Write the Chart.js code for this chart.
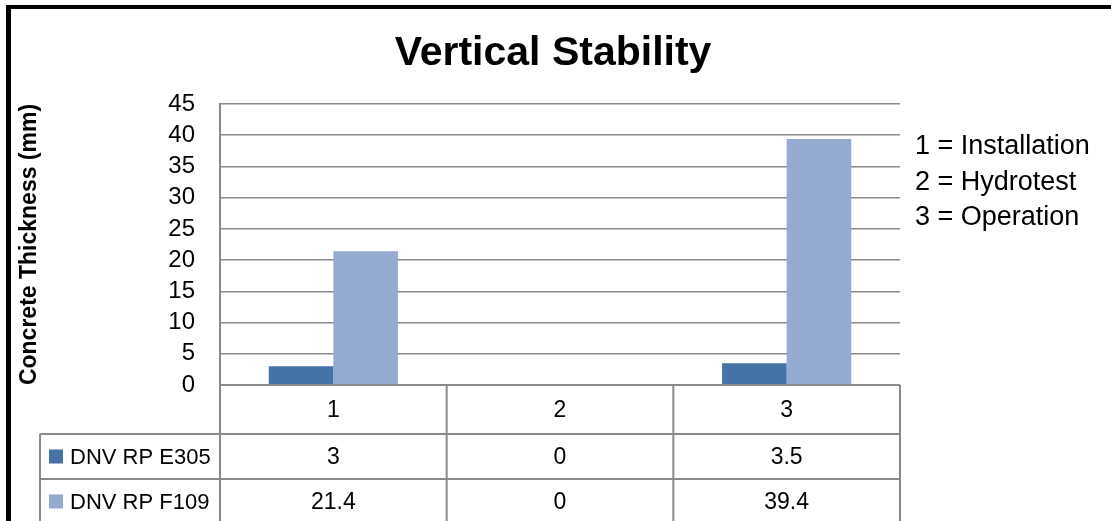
<!DOCTYPE html>
<html>
<head>
<meta charset="utf-8">
<title>Vertical Stability</title>
<script src="https://cdn.jsdelivr.net/npm/chart.js@4/dist/chart.umd.min.js"></script>
<style>
  html, body { margin: 0; padding: 0; background: #fff; }
  #wrap { width: 1111px; height: 521px; position: relative; overflow: hidden; }
  canvas { display: block; }
</style>
</head>
<body>
<div id="wrap"><canvas id="chart" width="1111" height="521"></canvas></div>
<script>
// Load cases on the category axis
const categories = ['1', '2', '3'];
const caseNames = ['1 = Installation', '2 = Hydrotest', '3 = Operation'];

// Required concrete thickness (mm) per design code
const seriesNames = ['DNV RP E305', 'DNV RP F109'];
const e305Values = [3, 0, 3.5];
const f109Values = [21.4, 0, 39.4];

// Value axis
const yMin = 0;
const yMax = 45;
const yStep = 5;

const titleText = 'Vertical Stability';
const yTitleText = 'Concrete Thickness (mm)';

const FONT = '"Liberation Sans", Arial, sans-serif';
const colors = ['#4572A7', '#95AAD1'];
const lineGrey = '#8a8a8a';

// Draws the frame, title, case key and the data table under the axis
const decorations = {
  id: 'decorations',
  afterDraw(chart) {
    const ctx = chart.ctx;
    const area = chart.chartArea;
    const xs = chart.scales.x;
    ctx.save();

    // outer frame (left and top edges)
    ctx.fillStyle = '#000';
    ctx.fillRect(6, 5, 1111, 4);
    ctx.fillRect(6, 5, 5, 521);

    // title
    ctx.fillStyle = '#000';
    ctx.font = 'bold 41px ' + FONT;
    ctx.textAlign = 'center';
    ctx.textBaseline = 'alphabetic';
    ctx.fillText(titleText, 553, 65);

    // case key on the right
    ctx.font = '27px ' + FONT;
    ctx.textAlign = 'left';
    caseNames.forEach((t, i) => ctx.fillText(t, 915, 154 + i * 35.5));

    // data table
    const rowTop = area.bottom;
    const headerH = 49;
    const rowH = 45;
    const legendLeft = 40;
    const half = (xs.getPixelForValue(1) - xs.getPixelForValue(0)) / 2;
    const edges = categories.map((c, i) => xs.getPixelForValue(i) - half);
    edges.push(area.right);

    ctx.strokeStyle = lineGrey;
    ctx.lineWidth = 2;
    ctx.beginPath();
    // axis line / table top
    ctx.moveTo(area.left, rowTop); ctx.lineTo(area.right, rowTop);
    // row separators
    for (let r = 0; r < seriesNames.length + 1; r++) {
      const y = rowTop + headerH + r * rowH;
      ctx.moveTo(legendLeft, y); ctx.lineTo(area.right, y);
    }
    // column separators
    edges.forEach((x, i) => {
      ctx.moveTo(x, i === 0 ? area.top : rowTop);
      ctx.lineTo(x, rowTop + headerH + seriesNames.length * rowH);
    });
    ctx.moveTo(legendLeft, rowTop + headerH);
    ctx.lineTo(legendLeft, rowTop + headerH + seriesNames.length * rowH);
    ctx.stroke();

    ctx.fillStyle = '#000';
    ctx.font = '23px ' + FONT;
    ctx.textAlign = 'center';
    ctx.textBaseline = 'middle';
    categories.forEach((c, i) => {
      ctx.fillText(c, xs.getPixelForValue(i), rowTop + headerH / 2 + 1);
    });

    chart.data.datasets.forEach((ds, r) => {
      const cy = rowTop + headerH + r * rowH + rowH / 2;
      ctx.fillStyle = ds.backgroundColor;
      ctx.fillRect(49, cy - 7, 14, 14);
      ctx.fillStyle = '#000';
      ctx.textAlign = 'left';
      ctx.font = '22px ' + FONT;
      ctx.fillText(ds.label, 70, cy + 1);
      ctx.textAlign = 'center';
      ctx.font = '23px ' + FONT;
      ds.data.forEach((v, i) => {
        ctx.fillText(String(v), xs.getPixelForValue(i), cy + 1);
      });
    });

    ctx.restore();
  }
};

new Chart(document.getElementById('chart'), {
  type: 'bar',
  data: {
    labels: categories,
    datasets: [
      { label: seriesNames[0], data: e305Values, backgroundColor: colors[0], borderWidth: 0 },
      { label: seriesNames[1], data: f109Values, backgroundColor: colors[1], borderWidth: 0 }
    ]
  },
  options: {
    responsive: false,
    animation: false,
    devicePixelRatio: 1,
    layout: { padding: { left: 0, top: 104, right: 211, bottom: 136 } },
    datasets: { bar: { categoryPercentage: 0.57, barPercentage: 1.0 } },
    plugins: {
      legend: { display: false },
      title: { display: false },
      tooltip: { enabled: false }
    },
    scales: {
      x: { display: false },
      y: {
        min: yMin,
        max: yMax,
        afterFit(scale) { scale.width = 220; },
        ticks: {
          stepSize: yStep,
          autoSkip: false,
          color: '#000',
          padding: 25,
          font: { family: FONT, size: 24 }
        },
        grid: { color: lineGrey, lineWidth: 1.5, drawTicks: false },
        border: { display: true, color: lineGrey, width: 2 },
        title: {
          display: true,
          text: yTitleText,
          color: '#000',
          font: { family: FONT, size: 23, weight: 'bold' },
          padding: { top: 16, bottom: 0 }
        }
      }
    }
  },
  plugins: [decorations]
});
</script>
</body>
</html>
